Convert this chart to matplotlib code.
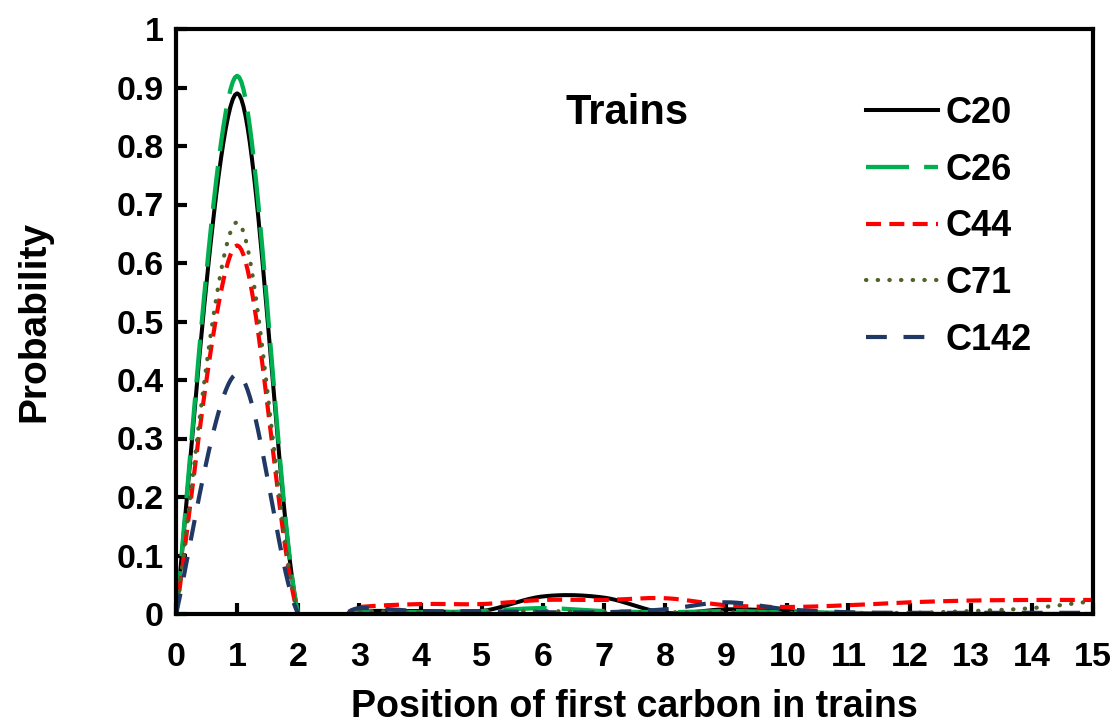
import numpy as np
import matplotlib
matplotlib.use("Agg")
import matplotlib.pyplot as plt

plt.rcParams['font.family'] = ['Liberation Sans', 'DejaVu Sans']
plt.rcParams['font.weight'] = 'bold'

positions = list(range(0, 16))
c20 = [0, 0.89, 0, 0.005, 0.005, 0.005, 0.030, 0.028, 0.002, 0.008, 0.005, 0.0, 0.0, 0.0, 0.0, 0.0]
c26 = [0, 0.92, 0, 0.005, 0.003, 0.005, 0.010, 0.005, 0.003, 0.005, 0.003, 0.002, 0.0, 0.0, 0.0, 0.0]
c44 = [0, 0.63, 0, 0.012, 0.017, 0.017, 0.024, 0.024, 0.027, 0.015, 0.012, 0.015, 0.020, 0.023, 0.024, 0.024]
c71 = [0, 0.67, 0, 0.005, 0.003, 0.003, 0.005, 0.003, 0.003, 0.003, 0.002, 0.002, 0.002, 0.005, 0.010, 0.022]
c142 = [0, 0.41, 0, 0.010, 0.005, 0.005, 0.003, 0.003, 0.008, 0.020, 0.008, 0.003, 0.002, 0.002, 0.002, 0.002]

series_names = ['C20', 'C26', 'C44', 'C71', 'C142']
x_ticks = list(range(0, 16))
y_ticks = [0, 0.1, 0.2, 0.3, 0.4, 0.5, 0.6, 0.7, 0.8, 0.9, 1]
y_tick_labels = ['0', '0.1', '0.2', '0.3', '0.4', '0.5', '0.6', '0.7', '0.8', '0.9', '1']


def smooth(xs, ys, n=30):
    """Excel-like smoothed line (Catmull-Rom as cubic Bezier)."""
    xs = np.asarray(xs, float)
    ys = np.asarray(ys, float)
    pts = np.column_stack([xs, ys])
    out = []
    m = len(pts)
    t = np.linspace(0, 1, n)[:, None]
    for i in range(m - 1):
        p0 = pts[i - 1] if i > 0 else pts[i]
        p1 = pts[i]
        p2 = pts[i + 1]
        p3 = pts[i + 2] if i + 2 < m else pts[i + 1]
        c1 = p1 + (p2 - p0) / 6.0
        c2 = p2 - (p3 - p1) / 6.0
        seg = ((1 - t) ** 3) * p1 + 3 * ((1 - t) ** 2) * t * c1 + 3 * (1 - t) * t ** 2 * c2 + t ** 3 * p2
        out.append(seg if i == 0 else seg[1:])
    arr = np.vstack(out)
    return arr[:, 0], arr[:, 1]


fig = plt.figure(figsize=(11.18, 7.27), dpi=100)
ax = fig.add_axes([176 / 1118, 1 - 614 / 727, (1093 - 176) / 1118, (614 - 29) / 727])

styles = [
    dict(color='#000000', lw=2.9, ls='-'),
    dict(color='#00B050', lw=3.1, dashes=(10, 3.5)),
    dict(color='#FF0000', lw=3.0, dashes=(3.6, 2.0)),
    dict(color='#4F6228', lw=3.0, dashes=(0.1, 2.7), dash_capstyle='round'),
    dict(color='#203864', lw=3.0, dashes=(5.0, 4.0)),
]
data = [c20, c26, c44, c71, c142]
for name, ys, st in zip(series_names, data, styles):
    sx, sy = smooth(positions, ys)
    ax.plot(sx, sy, label=name, **st)

ax.set_xlim(0, 15)
ax.set_ylim(0, 1)
ax.set_xticks(x_ticks)
ax.set_xticklabels([str(v) for v in x_ticks], fontsize=24.5, fontweight='bold')
ax.set_yticks(y_ticks)
ax.set_yticklabels(y_tick_labels, fontsize=24.5, fontweight='bold')
ax.tick_params(axis='both', direction='in', length=8, width=3, color='black')
ax.tick_params(axis='x', pad=20)
ax.tick_params(axis='y', pad=9)
for sp in ax.spines.values():
    sp.set_linewidth(3)
    sp.set_color('black')

ax.set_xlabel('Position of first carbon in trains', fontsize=27, fontweight='bold')
ax.xaxis.set_label_coords(0.5, -(689 - 614) / 585)
ax.set_ylabel('Probability', fontsize=28, fontweight='bold')
ax.yaxis.set_label_coords(-(176 - 52) / 917, 0.5)

fig.text(627 / 1118, 1 - 113 / 727, 'Trains', fontsize=30, fontweight='bold', ha='center', va='center')

leg = ax.legend(loc='upper left', bbox_to_anchor=(866 / 1118, 1 - 96 / 727), bbox_transform=fig.transFigure,
                frameon=False, fontsize=26, handlelength=2.0, handletextpad=0.2, labelspacing=0.6,
                borderpad=0, borderaxespad=0)
for t in leg.get_texts():
    t.set_fontweight('bold')

fig.savefig('out.png', dpi=100)
